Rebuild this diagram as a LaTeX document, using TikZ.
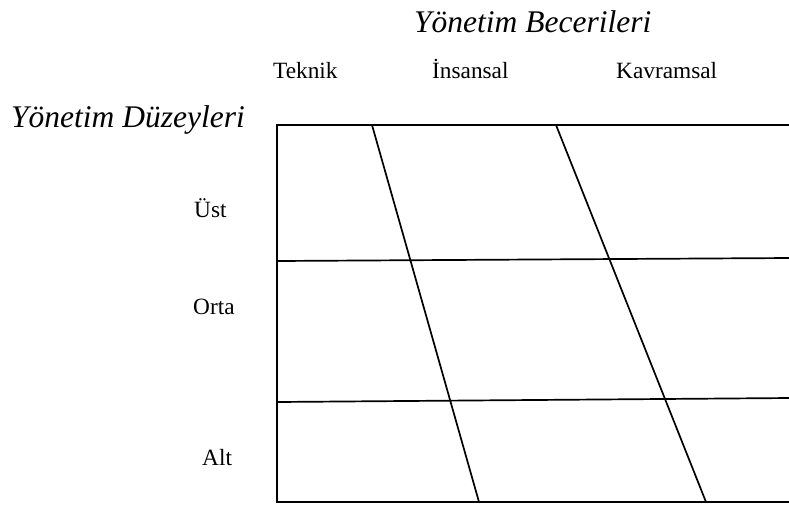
\documentclass[tikz,border=0pt]{standalone}
\usepackage{fontspec}
\setmainfont{Liberation Serif}
\begin{document}
\begin{tikzpicture}[x=1pt,y=-1pt,
  title/.style={inner sep=0pt,anchor=base west,font=\fontsize{31.5}{36}\selectfont\itshape},
  lab/.style={inner sep=0pt,anchor=base west,font=\fontsize{23.3}{28}\selectfont},
  gridline/.style={line width=1.7pt,line cap=rect}]
\useasboundingbox (0,0) rectangle (789,504);
% texts
\node[title] (tb) at (414,32) {Yönetim Becerileri};
\node[title] (td) at (11,127) {Yönetim Düzeyleri};
\node[lab] (tek) at (273,78) {Teknik};
\node[lab] (ins) at (432,78) {İnsansal};
\node[lab] (kav) at (616,78) {Kavramsal};
\node[lab] (ust) at (194,217) {Üst};
\node[lab] (ort) at (193,314) {Orta};
\node[lab] (alt) at (202,465) {Alt};
% frame corners
\coordinate (tl) at (277,125);
\coordinate (tr) at (790,125);
\coordinate (bl) at (277,502);
\coordinate (br) at (790,502);
\coordinate (m1l) at (277,261);
\coordinate (m1r) at (790,258);
\coordinate (m2l) at (277,402);
\coordinate (m2r) at (790,398);
\coordinate (s1t) at (372,125);
\coordinate (s1b) at (479,502);
\coordinate (s2t) at (556,125);
\coordinate (s2b) at (706,502);
\draw[gridline] (tr) -- (tl) -- (bl) -- (br);
\draw[gridline] (m1l) -- (m1r);
\draw[gridline] (m2l) -- (m2r);
\draw[gridline,line cap=butt] (s1t) -- (s1b);
\draw[gridline,line cap=butt] (s2t) -- (s2b);
\end{tikzpicture}
\end{document}
